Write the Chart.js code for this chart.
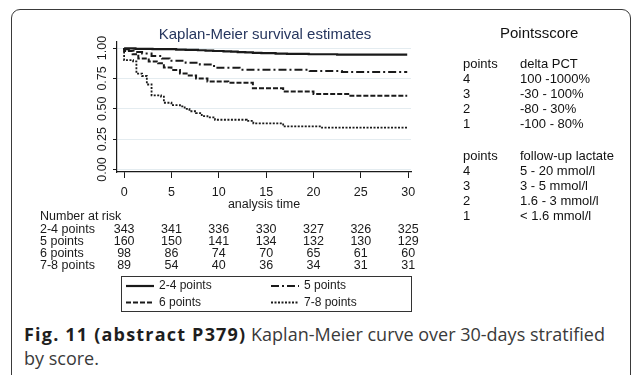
<!DOCTYPE html>
<html>
<head>
<meta charset="utf-8">
<script src="https://cdn.jsdelivr.net/npm/chart.js@4.4.0/dist/chart.umd.min.js"></script>
<style>
  html, body { margin: 0; padding: 0; background: #fff; }
  body { width: 634px; height: 375px; position: relative; overflow: hidden; font-family: "Liberation Sans", Arial, sans-serif; }
  .frame { position: absolute; left: 11px; top: 9px; width: 618px; height: 380px; border: 1.5px solid #3a3a3a; border-radius: 9px; }
  #km { position: absolute; left: 0; top: 0; }
  .title { position: absolute; left: 130px; width: 270px; top: 25px; text-align: center; font-size: 15px; line-height: 18px; color: #26365e; }
  .score-head { position: absolute; left: 500px; top: 24px; font-size: 15px; line-height: 18px; color: #111; }
  .score { position: absolute; font-size: 13px; line-height: 15px; color: #111; }
  .score div { height: 15px; white-space: nowrap; }
  .caption { position: absolute; left: 24px; top: 322px; font-family: "Open Sans", sans-serif; font-size: 18px; line-height: 24px; color: #3a3a3a; white-space: nowrap; }
  .caption b { color: #1e1e1e; font-weight: 700; letter-spacing: 1.2px; }
</style>
</head>
<body>
<div class="frame"></div>
<canvas id="km" width="634" height="320"></canvas>
<div class="title">Kaplan-Meier survival estimates</div>
<div class="score-head">Pointsscore</div>
<div class="score" id="pctCol1" style="left:463px; top:56px;"></div>
<div class="score" id="pctCol2" style="left:520px; top:56px;"></div>
<div class="score" id="lacCol1" style="left:463px; top:148px;"></div>
<div class="score" id="lacCol2" style="left:520px; top:148px;"></div>
<div class="caption"><b>Fig. 11 (abstract P379)</b> Kaplan-Meier curve over 30-days stratified<br>by score.</div>
<script>
// survival step curves, one pair of arrays per score group
const groups = ['2-4 points', '5 points', '6 points', '7-8 points'];

const t24 = [0, 1.2, 3.0, 5.5, 6.5, 7.8, 8.6, 9.4, 10.5, 11.3, 12.0, 12.8, 13.6, 14.5, 16.0, 17.2, 19.5, 22.5, 24.0, 29.9];
const s24 = [1, 0.997, 0.994, 0.991, 0.988, 0.985, 0.982, 0.979, 0.976, 0.973, 0.970, 0.967, 0.964, 0.961, 0.958, 0.955, 0.952, 0.949, 0.946, 0.946];

const t5 = [0, 0.5, 1.0, 1.9, 2.9, 4.0, 4.8, 6.5, 8.0, 9.5, 12.2, 19.6, 23.0, 27.0, 29.9];
const s5 = [1, 0.99, 0.98, 0.968, 0.955, 0.935, 0.915, 0.896, 0.88, 0.865, 0.838, 0.822, 0.812, 0.803, 0.803];

const t6 = [0, 0.9, 1.5, 2.6, 3.6, 4.2, 5.0, 5.9, 6.6, 7.6, 8.8, 11.0, 13.6, 16.8, 20.0, 23.9, 26.0, 29.9];
const s6 = [1, 0.975, 0.95, 0.915, 0.89, 0.875, 0.84, 0.82, 0.79, 0.775, 0.75, 0.725, 0.715, 0.67, 0.643, 0.622, 0.607, 0.607];

const t78 = [0, 0.95, 1.3, 1.9, 2.4, 2.9, 3.9, 4.2, 5.0, 5.9, 6.4, 6.9, 7.6, 8.2, 8.8, 9.6, 12.95, 13.65, 16.8, 20.9, 23.7, 29.9];
const s78 = [1, 0.90, 0.89, 0.79, 0.77, 0.70, 0.61, 0.60, 0.55, 0.53, 0.52, 0.50, 0.48, 0.465, 0.44, 0.43, 0.41, 0.40, 0.38, 0.355, 0.345, 0.345];

// number at risk table
const riskTimes = [0, 5, 10, 15, 20, 25, 30];
const risk24 = [343, 341, 336, 330, 327, 326, 325];
const risk5 = [160, 150, 141, 134, 132, 130, 129];
const risk6 = [98, 86, 74, 70, 65, 61, 60];
const risk78 = [89, 54, 40, 36, 34, 31, 31];

const xTicks = [0, 5, 10, 15, 20, 25, 30];
const yTicks = [0, 0.25, 0.5, 0.75, 1];

// score key on the right
const scorePoints = ['4', '3', '2', '1'];
const pctRanges = ['100 -1000%', '-30 - 100%', '-80 - 30%', '-100 - 80%'];
const lactateRanges = ['5 - 20 mmol/l', '3 - 5 mmol/l', '1.6 - 3 mmol/l', '< 1.6 mmol/l'];

const fillCol = (id, head, rows) => {
  document.getElementById(id).innerHTML =
    [head].concat(rows).map(r => '<div>' + r.replace('<', '&lt;') + '</div>').join('');
};
fillCol('pctCol1', 'points', scorePoints);
fillCol('pctCol2', 'delta PCT', pctRanges);
fillCol('lacCol1', 'points', scorePoints);
fillCol('lacCol2', 'follow-up lactate', lactateRanges);

const toPoints = (ts, ss) => ts.map((t, i) => ({ x: t, y: ss[i] }));
const riskRows = [risk24, risk5, risk6, risk78];
const FONT = '"Liberation Sans", Arial, sans-serif';
const INK = '#1a1a1a';

const makeSet = (label, ts, ss, dash, width) => ({
  label: label,
  data: toPoints(ts, ss),
  stepped: 'after',
  borderColor: INK,
  borderWidth: width,
  borderDash: dash,
  pointRadius: 0,
  fill: false,
});

// risk table under the axis and the boxed key
const riskTable = {
  id: 'riskTable',
  afterDraw(chart) {
    const { ctx } = chart;
    const x = chart.scales.x;
    ctx.save();
    ctx.font = '12.5px ' + FONT;
    ctx.fillStyle = INK;
    ctx.textBaseline = 'middle';
    ctx.textAlign = 'left';
    ctx.fillText('Number at risk', 40, 217);
    riskRows.forEach((row, i) => {
      const y = 230 + i * 12;
      ctx.textAlign = 'left';
      ctx.fillText(groups[i], 40, y);
      ctx.textAlign = 'center';
      row.forEach((n, j) => ctx.fillText(String(n), x.getPixelForValue(riskTimes[j]), y));
    });

    ctx.font = '12px ' + FONT;
    ctx.strokeStyle = '#333';
    ctx.lineWidth = 1;
    ctx.setLineDash([]);
    ctx.strokeRect(121.5, 276.5, 290, 35);
    chart.data.datasets.forEach((ds, i) => {
      const col = i % 2, row = Math.floor(i / 2);
      const x0 = col === 0 ? 126 : 271;
      const y = row === 0 ? 286 : 302.5;
      ctx.beginPath();
      ctx.setLineDash(ds.borderDash);
      ctx.lineWidth = ds.borderWidth;
      ctx.strokeStyle = INK;
      ctx.moveTo(x0, y);
      ctx.lineTo(x0 + 28, y);
      ctx.stroke();
      ctx.setLineDash([]);
      ctx.textAlign = 'left';
      ctx.fillText(ds.label, x0 + 33, y);
    });
    ctx.restore();
  }
};

new Chart(document.getElementById('km'), {
  type: 'line',
  data: {
    datasets: [
      makeSet(groups[0], t24, s24, [], 2.2),
      makeSet(groups[1], t5, s5, [8, 3, 2, 3], 2),
      makeSet(groups[2], t6, s6, [5, 2], 2),
      makeSet(groups[3], t78, s78, [2, 1.5], 1.8),
    ]
  },
  options: {
    responsive: false,
    animation: false,
    layout: { padding: { left: 0, top: 42, right: 223, bottom: 108 } },
    plugins: { legend: { display: false }, tooltip: { enabled: false } },
    scales: {
      x: {
        type: 'linear',
        min: -0.75,
        max: 30.3,
        afterBuildTicks: (scale) => { scale.ticks = xTicks.map(v => ({ value: v })); },
        afterFit: (scale) => { scale.height = 40; },
        ticks: { color: INK, font: { family: FONT, size: 12.5 }, padding: 7, maxRotation: 0 },
        grid: { drawOnChartArea: false, drawTicks: true, tickLength: 6, color: INK },
        border: { display: true, color: INK, width: 1.2 },
        title: { display: true, text: 'analysis time', color: INK, font: { family: FONT, size: 12.5 }, padding: 0 },
      },
      y: {
        min: -0.02,
        max: 1.05,
        afterBuildTicks: (scale) => { scale.ticks = yTicks.map(v => ({ value: v })); },
        afterFit: (scale) => { scale.width = 117; },
        ticks: {
          color: INK,
          font: { family: FONT, size: 12.5 },
          padding: -2,
          minRotation: 90,
          maxRotation: 90,
          crossAlign: 'center',
          callback: (v) => Number(v).toFixed(2),
        },
        grid: { color: '#e4ecf0', tickColor: INK, tickLength: 4, lineWidth: 1 },
        border: { display: true, color: INK, width: 1.2 },
      }
    }
  },
  plugins: [riskTable]
});
</script>
</body>
</html>
